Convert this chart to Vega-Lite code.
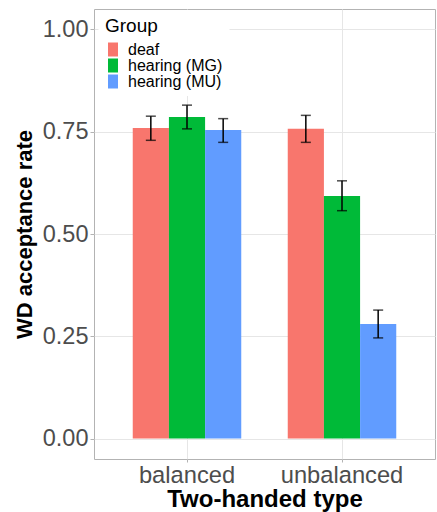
{
  "$schema": "https://vega.github.io/schema/vega-lite/v6.json",
  "width": 341,
  "height": 450,
  "autosize": "none",
  "padding": {"left": 94, "top": 9, "right": 2, "bottom": 53},
  "background": "white",
  "config": {
    "font": "Liberation Sans",
    "view": {"stroke": "#B3B3B3", "strokeWidth": 1},
    "axis": {
      "domain": false,
      "gridColor": "#E6E6E6",
      "gridWidth": 1,
      "tickColor": "#B3B3B3",
      "tickSize": 4,
      "labelColor": "#4D4D4D",
      "labelFont": "Liberation Sans",
      "titleFont": "Liberation Sans",
      "titleColor": "black",
      "titleFontWeight": "bold"
    }
  },
  "data": {
    "values": [
      {"type": "balanced", "group": "deaf", "rate": 0.759, "lo": 0.729, "hi": 0.788},
      {"type": "balanced", "group": "hearing (MG)", "rate": 0.786, "lo": 0.757, "hi": 0.815},
      {"type": "balanced", "group": "hearing (MU)", "rate": 0.754, "lo": 0.724, "hi": 0.782},
      {"type": "unbalanced", "group": "deaf", "rate": 0.757, "lo": 0.724, "hi": 0.790},
      {"type": "unbalanced", "group": "hearing (MG)", "rate": 0.593, "lo": 0.557, "hi": 0.630},
      {"type": "unbalanced", "group": "hearing (MU)", "rate": 0.280, "lo": 0.246, "hi": 0.314}
    ]
  },
  "encoding": {
    "x": {
      "field": "type",
      "type": "nominal",
      "title": "Two-handed type",
      "scale": {"paddingInner": 0.3, "paddingOuter": 0.25},
      "axis": {
        "labelAngle": 0,
        "labelFontSize": 23.7,
        "labelPadding": 1,
        "tickSize": 3,
        "titleFontSize": 24,
        "titlePadding": 1,
        "grid": true,
        "bandPosition": 0.5
      }
    },
    "xOffset": {
      "field": "group",
      "type": "nominal",
      "scale": {"paddingInner": 0, "paddingOuter": 0, "domain": ["deaf", "hearing (MG)", "hearing (MU)"]}
    }
  },
  "layer": [
    {
      "mark": {"type": "bar"},
      "encoding": {
        "y": {
          "field": "rate",
          "type": "quantitative",
          "title": "WD acceptance rate",
          "scale": {"domain": [-0.05, 1.05], "nice": false, "zero": false},
          "axis": {
            "values": [0, 0.25, 0.5, 0.75, 1],
            "format": ".2f",
            "labelFontSize": 23.5,
            "labelPadding": 2,
            "titleFontSize": 22,
            "titlePadding": 6
          }
        },
        "color": {
          "field": "group",
          "type": "nominal",
          "title": "Group",
          "scale": {"domain": ["deaf", "hearing (MG)", "hearing (MU)"], "range": ["#F8766D", "#00BA38", "#619CFF"]},
          "legend": {
            "orient": "none",
            "legendX": 4.5,
            "legendY": 1,
            "padding": 6.5,
            "fillColor": "white",
            "titleFontSize": 19,
            "titleFontWeight": "normal",
            "titleColor": "black",
            "titlePadding": 6,
            "labelFontSize": 16,
            "labelColor": "black",
            "labelOffset": 7,
            "rowPadding": -2,
            "symbolType": "M-0.714,-1L0.714,-1L0.714,1L-0.714,1Z",
            "symbolSize": 196,
            "symbolStrokeWidth": 0,
            "symbolOpacity": 1
          }
        }
      }
    },
    {
      "mark": {"type": "rule", "color": "black", "strokeWidth": 1.5},
      "encoding": {
        "y": {"field": "lo", "type": "quantitative"},
        "y2": {"field": "hi"}
      }
    },
    {
      "mark": {"type": "tick", "color": "black", "thickness": 1.5, "size": 10, "orient": "horizontal"},
      "encoding": {
        "y": {"field": "lo", "type": "quantitative"}
      }
    },
    {
      "mark": {"type": "tick", "color": "black", "thickness": 1.5, "size": 10, "orient": "horizontal"},
      "encoding": {
        "y": {"field": "hi", "type": "quantitative"}
      }
    }
  ]
}
